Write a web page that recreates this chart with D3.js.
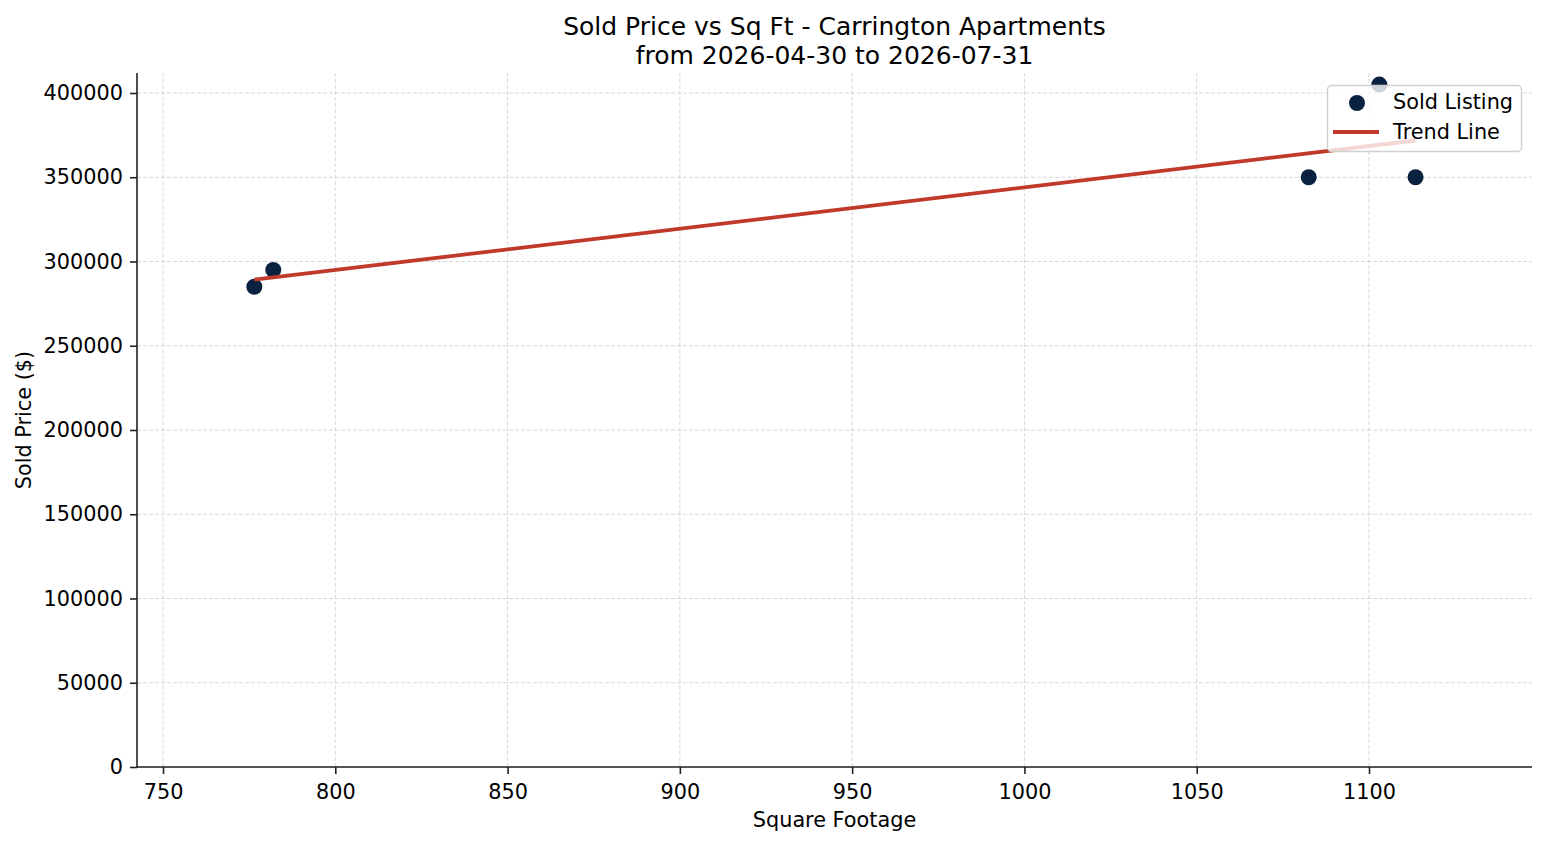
<!DOCTYPE html>
<html>
<head>
<meta charset="utf-8">
<script src="https://cdn.jsdelivr.net/npm/d3@7/dist/d3.min.js"></script>
<style>
  html, body { margin: 0; padding: 0; background: #fff; }
  svg { display: block; font-family: "DejaVu Sans", sans-serif; }
</style>
</head>
<body>
<svg id="chart" width="1547" height="845"></svg>
<script>
// ---- data ----
const sqft = [776.5, 782, 1082.5, 1103, 1113.5];
const soldPrice = [285000, 295000, 350000, 405000, 350000];
const xTicks = [750, 800, 850, 900, 950, 1000, 1050, 1100];
const yTicks = [0, 50000, 100000, 150000, 200000, 250000, 300000, 350000, 400000];
const titleLines = ["Sold Price vs Sq Ft - Carrington Apartments", "from 2026-04-30 to 2026-07-31"];
const xLabel = "Square Footage";
const yLabel = "Sold Price ($)";
const legendLabels = ["Sold Listing", "Trend Line"];

// ---- layout ----
const W = 1547, H = 845;
const m = { left: 137, right: 1532, top: 73, bottom: 767 };
const navy = "#0a2240", red = "#c0392b";
const fs = "20.8px";

const svg = d3.select("#chart");

const x = d3.scaleLinear().domain([742.45, 1147.3]).range([m.left, m.right]);
const y = d3.scaleLinear().domain([0, 411870]).range([m.bottom, m.top]);

// grid
const grid = svg.append("g");
grid.selectAll("line.gx").data(xTicks).join("line")
  .attr("x1", d => x(d)).attr("x2", d => x(d))
  .attr("y1", m.top).attr("y2", m.bottom)
  .attr("stroke", "#cfcfcf").attr("stroke-width", 0.8).attr("stroke-dasharray", "4,2");
grid.selectAll("line.gy").data(yTicks).join("line")
  .attr("x1", m.left).attr("x2", m.right)
  .attr("y1", d => y(d)).attr("y2", d => y(d))
  .attr("stroke", "#cfcfcf").attr("stroke-width", 0.8).attr("stroke-dasharray", "4,2");

// axes
const xAxis = d3.axisBottom(x).tickValues(xTicks).tickSize(7).tickPadding(8).tickFormat(d3.format("d"));
const yAxis = d3.axisLeft(y).tickValues(yTicks).tickSize(7).tickPadding(7).tickFormat(d3.format("d"));

const gx = svg.append("g").attr("transform", `translate(0,${m.bottom})`).call(xAxis);
const gy = svg.append("g").attr("transform", `translate(${m.left},0)`).call(yAxis);
[gx, gy].forEach(g => {
  g.select(".domain").remove();
  g.selectAll(".tick line").attr("stroke", "#222").attr("stroke-width", 1.6);
  g.selectAll(".tick text").attr("fill", "#000").attr("font-size", fs)
    .attr("font-family", "DejaVu Sans, sans-serif");
});
gx.selectAll(".tick text").attr("dy", "0.8em");

// spines (left and bottom only)
svg.append("line").attr("x1", m.left).attr("x2", m.left).attr("y1", m.top).attr("y2", m.bottom + 0.8)
  .attr("stroke", "#222").attr("stroke-width", 1.6);
svg.append("line").attr("x1", m.left - 0.8).attr("x2", m.right).attr("y1", m.bottom).attr("y2", m.bottom)
  .attr("stroke", "#222").attr("stroke-width", 1.6);

// points
const pts = sqft.map((v, i) => ({ x: v, y: soldPrice[i] }));
svg.append("g").selectAll("circle").data(pts).join("circle")
  .attr("cx", d => x(d.x)).attr("cy", d => y(d.y)).attr("r", 8).attr("fill", navy);

// trend line (least squares fit of the points)
const mx = d3.mean(sqft), my = d3.mean(soldPrice);
const slope = d3.sum(sqft.map((v, i) => (v - mx) * (soldPrice[i] - my))) / d3.sum(sqft.map(v => (v - mx) ** 2));
const icpt = my - slope * mx;
const ext = d3.extent(sqft);
const trend = ext.map(v => ({ x: v, y: icpt + slope * v }));
svg.append("path").datum(trend)
  .attr("d", d3.line().x(d => x(d.x)).y(d => y(d.y)))
  .attr("stroke", red).attr("stroke-width", 3.8).attr("fill", "none");

// title
svg.append("text").attr("x", (m.left + m.right) / 2).attr("y", 34.5)
  .attr("text-anchor", "middle").attr("font-size", "25px").attr("fill", "#000")
  .selectAll("tspan").data(titleLines).join("tspan")
  .attr("x", (m.left + m.right) / 2).attr("dy", (d, i) => i === 0 ? 0 : 29).text(d => d);

// axis labels
svg.append("text").attr("x", (m.left + m.right) / 2).attr("y", 826.5)
  .attr("text-anchor", "middle").attr("font-size", fs).attr("fill", "#000").text(xLabel);
svg.append("text").attr("transform", `translate(31,${(m.top + m.bottom) / 2}) rotate(-90)`)
  .attr("text-anchor", "middle").attr("font-size", fs).attr("fill", "#000").text(yLabel);

// legend
const lg = svg.append("g");
lg.append("rect").attr("x", 1327.5).attr("y", 85.5).attr("width", 194).attr("height", 66).attr("rx", 4)
  .attr("fill", "#fff").attr("fill-opacity", 0.8).attr("stroke", "#d0d0d0").attr("stroke-width", 1.4);
lg.append("circle").attr("cx", 1357).attr("cy", 103).attr("r", 8).attr("fill", navy);
lg.append("line").attr("x1", 1333).attr("x2", 1379).attr("y1", 132).attr("y2", 132)
  .attr("stroke", red).attr("stroke-width", 3.8);
lg.selectAll("text.l").data(legendLabels).join("text")
  .attr("x", 1393).attr("y", (d, i) => 109 + i * 30)
  .attr("font-size", fs).attr("fill", "#000").text(d => d);
</script>
</body>
</html>
